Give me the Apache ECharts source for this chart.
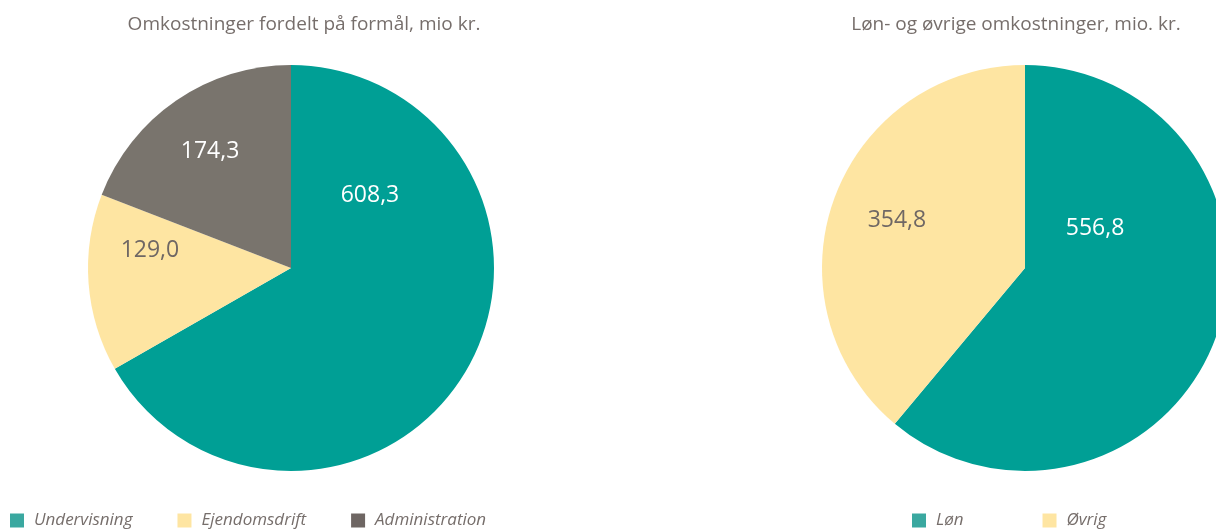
<!DOCTYPE html>
<html>
<head>
<meta charset="utf-8">
<script src="https://cdn.jsdelivr.net/npm/echarts@6/dist/echarts.min.js"></script>
<style>
  html, body { margin: 0; padding: 0; background: #ffffff; }
  #chart { width: 1216px; height: 530px; }
</style>
</head>
<body>
<div id="chart"></div>
<script>
// Omkostninger fordelt på formål
const purposeTitle = 'Omkostninger fordelt på formål, mio kr.';
const purposeNames = ['Undervisning', 'Ejendomsdrift', 'Administration'];
const purposeValues = [608.3, 129.0, 174.3];

// Løn- og øvrige omkostninger
const wageTitle = 'Løn- og øvrige omkostninger, mio. kr.';
const wageNames = ['Løn', 'Øvrig'];
const wageValues = [556.8, 354.8];

const TEAL = '#009f95';
const YELLOW = '#fee5a2';
const GREY = '#79746d';
const TEXT = '#766e6b';
const FONT = '"Open Sans", "Noto Sans", sans-serif';

const R = 203;
const leftCenter = [291, 268];
const rightCenter = [1025, 268];

const fmt = v => v.toFixed(1).replace('.', ',');

// label anchors, relative to the pie centre in units of radius
const leftLabelPos = [[0.389, -0.355], [-0.695, -0.084], [-0.399, -0.576]];
const rightLabelPos = [[0.345, -0.197], [-0.631, -0.236]];

function labelLayoutFor(center, rel) {
  return function (p) {
    const r = rel[p.dataIndex];
    return {
      x: center[0] + r[0] * R,
      y: center[1] + r[1] * R,
      align: 'center',
      verticalAlign: 'middle'
    };
  };
}

const leftColors = [TEAL, YELLOW, GREY];
const leftLabelColors = ['#ffffff', '#6f6764', '#ffffff'];
const rightColors = [TEAL, YELLOW];
const rightLabelColors = ['#ffffff', '#6f6764'];

const legendIconColors = ['#3aa8a0', '#fee5a2', '#6e6663'];

const legendText = {
  fontFamily: FONT, fontSize: 17, fontStyle: 'italic', color: TEXT,
  lineHeight: 16, padding: [0, 0, 0, 5]
};
const titleText = { fontFamily: FONT, fontSize: 19, fontWeight: 'normal', color: TEXT };

const chart = echarts.init(document.getElementById('chart'), null, { renderer: 'canvas' });

chart.setOption({
  backgroundColor: '#ffffff',
  animation: false,
  title: [
    { text: purposeTitle, left: 299, top: 10, textAlign: 'center', textStyle: titleText },
    { text: wageTitle, left: 1011, top: 10, textAlign: 'center', textStyle: titleText }
  ],
  legend: [
    {
      data: purposeNames.map((n, i) => ({ name: n, itemStyle: { color: legendIconColors[i] } })),
      left: 10, top: 512, padding: 0,
      icon: 'rect', itemWidth: 14, itemHeight: 14, itemGap: 45,
      textStyle: legendText
    },
    {
      data: wageNames.map((n, i) => ({ name: n, itemStyle: { color: legendIconColors[i] } })),
      left: 912, top: 512, padding: 0,
      icon: 'rect', itemWidth: 14, itemHeight: 14, itemGap: 79,
      textStyle: legendText
    }
  ],
  series: [
    {
      type: 'pie',
      center: leftCenter,
      radius: [0, R],
      startAngle: 90,
      clockwise: true,
      avoidLabelOverlap: false,
      labelLine: { show: false },
      emphasis: { disabled: true },
      data: purposeNames.map((n, i) => ({
        name: n,
        value: purposeValues[i],
        itemStyle: { color: leftColors[i] },
        label: { color: leftLabelColors[i] }
      })),
      label: {
        show: true,
        position: 'inside',
        fontFamily: FONT,
        fontSize: 23,
        formatter: p => fmt(p.value)
      },
      labelLayout: labelLayoutFor(leftCenter, leftLabelPos)
    },
    {
      type: 'pie',
      center: rightCenter,
      radius: [0, R],
      startAngle: 90,
      clockwise: true,
      avoidLabelOverlap: false,
      labelLine: { show: false },
      emphasis: { disabled: true },
      data: wageNames.map((n, i) => ({
        name: n,
        value: wageValues[i],
        itemStyle: { color: rightColors[i] },
        label: { color: rightLabelColors[i] }
      })),
      label: {
        show: true,
        position: 'inside',
        fontFamily: FONT,
        fontSize: 23,
        formatter: p => fmt(p.value)
      },
      labelLayout: labelLayoutFor(rightCenter, rightLabelPos)
    }
  ]
});
</script>
</body>
</html>
